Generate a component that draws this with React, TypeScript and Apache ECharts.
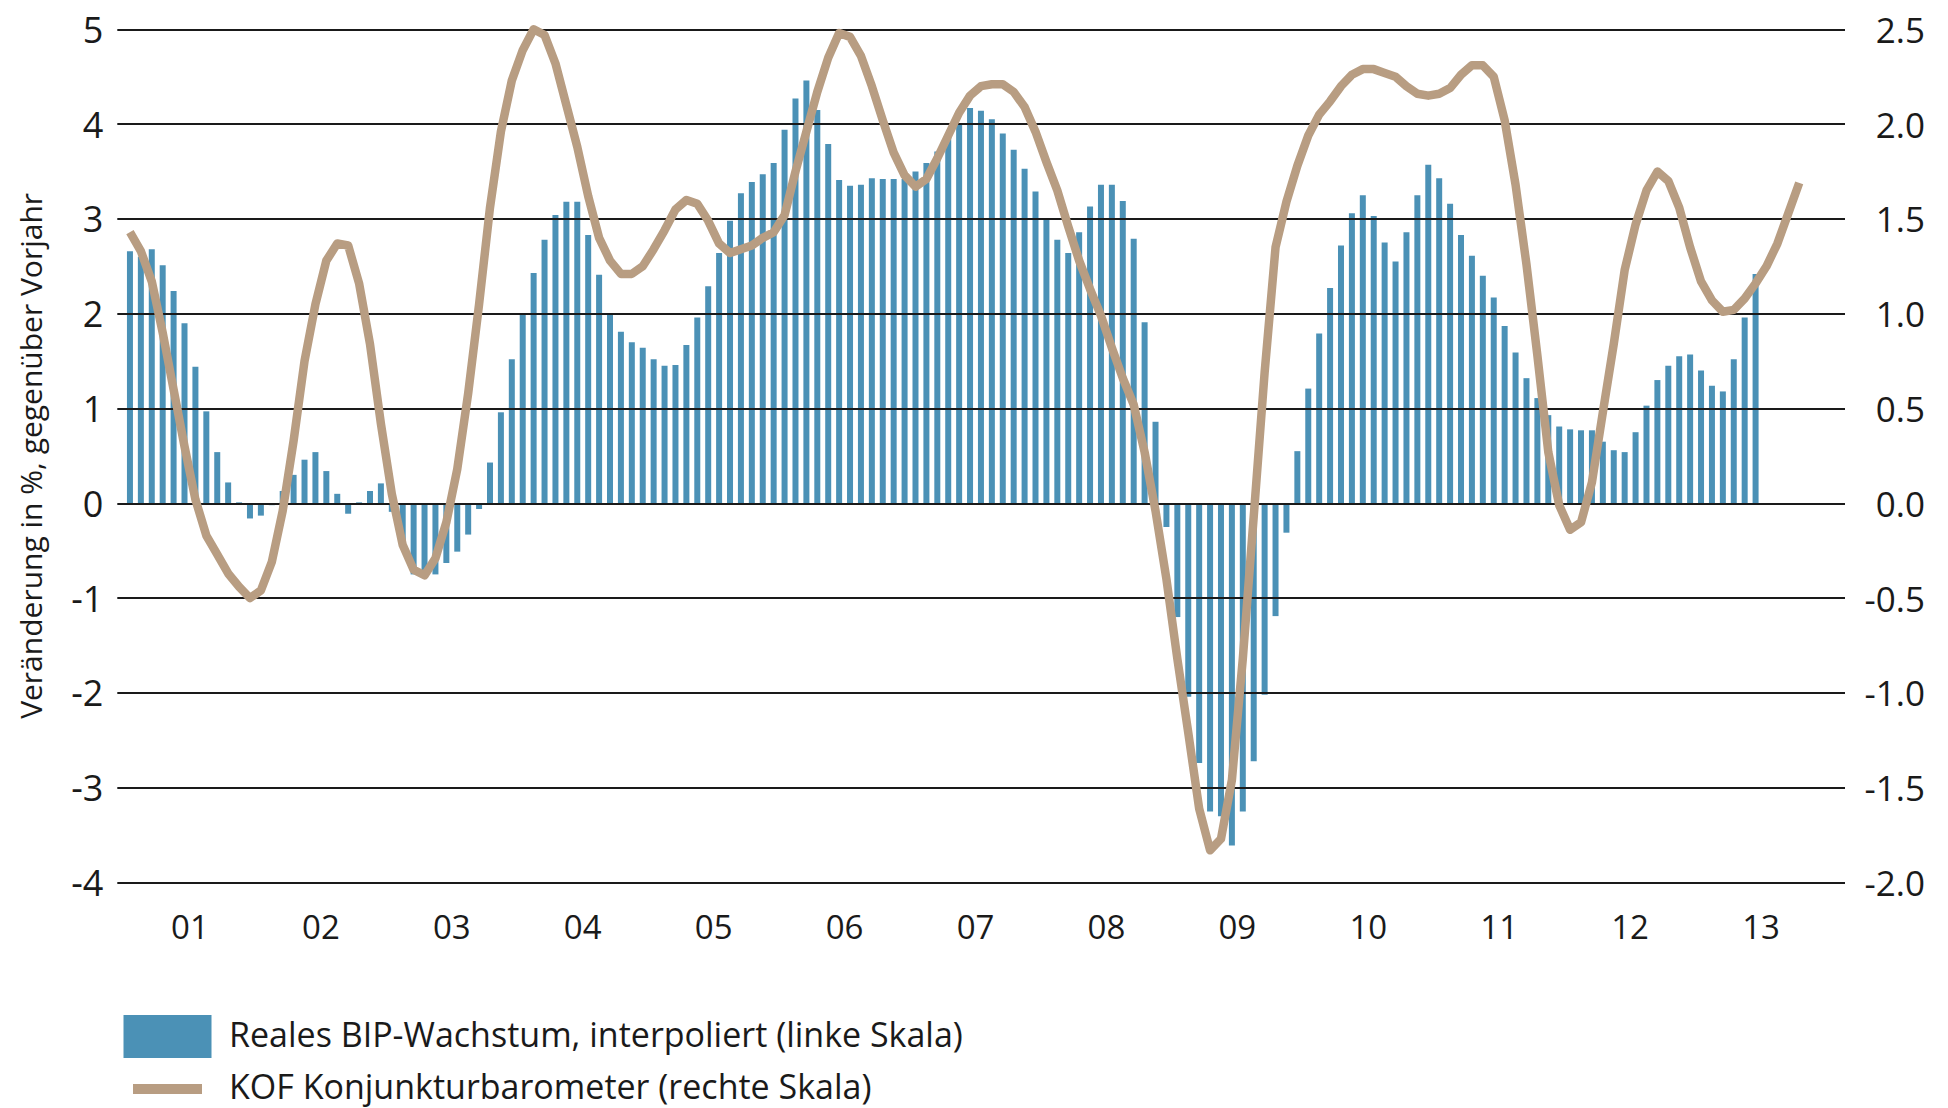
import React, { useEffect, useRef } from "react";
import * as echarts from "echarts";

const yearLabels = ["01", "02", "03", "04", "05", "06", "07", "08", "09", "10", "11", "12", "13"];

// Monthly categories Jan 2001 .. Dec 2013
const monthCategories: string[] = [];
for (let y = 2001; y <= 2013; y++) {
  for (let m = 1; m <= 12; m++) monthCategories.push(`${y}-${m < 10 ? "0" + m : m}`);
}

// Reales BIP-Wachstum, interpoliert (linke Skala), Jan 2001 ..
const bipGrowth = [
  2.66, 2.6, 2.68, 2.51, 2.24, 1.9, 1.44, 0.97, 0.54, 0.22, 0.01, -0.16,
  -0.13, -0.02, 0.13, 0.3, 0.46, 0.54, 0.34, 0.1, -0.11, 0.01, 0.13, 0.21,
  -0.09, -0.43, -0.75, -0.75, -0.75, -0.63, -0.51, -0.33, -0.06, 0.43, 0.96, 1.52,
  2.0, 2.43, 2.78, 3.04, 3.18, 3.18, 2.83, 2.41, 1.99, 1.81, 1.7, 1.64,
  1.52, 1.45, 1.46, 1.67, 1.96, 2.29, 2.64, 2.98, 3.27, 3.39, 3.47, 3.59,
  3.94, 4.27, 4.46, 4.15, 3.79, 3.41, 3.35, 3.36, 3.43, 3.42, 3.42, 3.42,
  3.5, 3.59, 3.71, 3.88, 4.01, 4.17, 4.14, 4.05, 3.9, 3.73, 3.53, 3.29,
  3.01, 2.78, 2.64, 2.86, 3.13, 3.36, 3.36, 3.19, 2.79, 1.91, 0.86, -0.25,
  -1.2, -2.04, -2.74, -3.25, -3.3, -3.61, -3.25, -2.72, -2.02, -1.19, -0.31, 0.55,
  1.21, 1.79, 2.27, 2.72, 3.06, 3.25, 3.03, 2.75, 2.55, 2.86, 3.25, 3.57,
  3.43, 3.16, 2.83, 2.61, 2.4, 2.17, 1.87, 1.59, 1.32, 1.11, 0.93, 0.81,
  0.78, 0.77, 0.77, 0.65, 0.56, 0.54, 0.75, 1.03, 1.3, 1.45, 1.55, 1.57,
  1.4, 1.24, 1.18, 1.52, 1.96, 2.42,
];

// KOF Konjunkturbarometer (rechte Skala), Jan 2001 ..
const kofBarometer = [
  1.43, 1.33, 1.17, 0.9, 0.6, 0.3, 0.02, -0.17, -0.27, -0.37, -0.44, -0.5,
  -0.46, -0.31, -0.04, 0.33, 0.75, 1.05, 1.28, 1.37, 1.36, 1.16, 0.84, 0.42,
  0.05, -0.22, -0.35, -0.38, -0.29, -0.1, 0.18, 0.58, 1.05, 1.56, 1.96, 2.23,
  2.39, 2.5, 2.47, 2.32, 2.1, 1.88, 1.62, 1.4, 1.28, 1.21, 1.21, 1.25,
  1.34, 1.44, 1.55, 1.6, 1.58, 1.49, 1.37, 1.32, 1.34, 1.36, 1.4, 1.43,
  1.52, 1.75, 1.96, 2.17, 2.35, 2.48, 2.46, 2.36, 2.2, 2.02, 1.85, 1.73,
  1.67, 1.71, 1.82, 1.94, 2.06, 2.15, 2.2, 2.21, 2.21, 2.17, 2.09, 1.96,
  1.8, 1.65, 1.46, 1.28, 1.13, 0.99, 0.82, 0.66, 0.52, 0.27, -0.04, -0.4,
  -0.82, -1.21, -1.61, -1.83, -1.77, -1.46, -0.82, -0.07, 0.69, 1.35, 1.59, 1.78,
  1.94, 2.05, 2.12, 2.2, 2.26, 2.29, 2.29, 2.27, 2.25, 2.2, 2.16, 2.15,
  2.16, 2.19, 2.26, 2.31, 2.31, 2.25, 2.02, 1.68, 1.26, 0.78, 0.27, -0.01,
  -0.14, -0.1, 0.11, 0.48, 0.84, 1.23, 1.47, 1.65, 1.75, 1.7, 1.56, 1.35,
  1.17, 1.07, 1.01, 1.02, 1.08, 1.16, 1.25, 1.37, 1.53, 1.69,
];

const seriesNames = [
  "Reales BIP-Wachstum, interpoliert (linke Skala)",
  "KOF Konjunkturbarometer (rechte Skala)",
];
const yAxisTitle = "Veränderung in %, gegenüber Vorjahr";

const BAR_COLOR = "#4b91b6";
const LINE_COLOR = "#b89d82";
const TEXT_COLOR = "#1a1a1a";
const FONT = "'Open Sans', 'Noto Sans', sans-serif";

export default function App() {
  const ref = useRef<HTMLDivElement>(null);

  useEffect(() => {
    document.body.style.margin = "0";
    if (!ref.current) return;
    const chart = echarts.init(ref.current, undefined, { renderer: "svg" });
    const top = 29.3;
    const bottom = 1108 - 882.5;
    chart.setOption({
      animation: false,
      backgroundColor: "#ffffff",
      textStyle: { fontFamily: FONT, color: TEXT_COLOR },
      grid: [
        { left: 124.5, right: 121.5, top, bottom },
        { left: 117.3, right: 103, top, bottom },
      ],
      xAxis: [
        {
          gridIndex: 0,
          type: "category",
          data: monthCategories,
          boundaryGap: true,
          show: false,
        },
        {
          gridIndex: 0,
          type: "category",
          data: yearLabels,
          boundaryGap: true,
          position: "bottom",
          axisLine: { show: false, onZero: false },
          axisTick: { show: false },
          splitLine: { show: false },
          axisLabel: {
            interval: 0,
            fontSize: 33,
            fontFamily: FONT,
            color: TEXT_COLOR,
            margin: 27,
          },
        },
        { gridIndex: 1, type: "value", min: 0, max: 1, show: false },
      ],
      yAxis: [
        {
          gridIndex: 1,
          type: "value",
          position: "left",
          min: -4,
          max: 5,
          interval: 1,
          z: 3,
          axisLine: { show: false },
          axisTick: { show: false },
          splitLine: { show: true, lineStyle: { color: TEXT_COLOR, width: 2 } },
          axisLabel: { fontSize: 36, fontFamily: FONT, color: TEXT_COLOR, margin: 14 },
          name: yAxisTitle,
          nameLocation: "middle",
          nameRotate: 90,
          nameGap: 72,
          nameTextStyle: { fontSize: 30, fontFamily: FONT, color: TEXT_COLOR },
        },
        {
          gridIndex: 1,
          type: "value",
          position: "right",
          min: -2,
          max: 2.5,
          interval: 0.5,
          axisLine: { show: false },
          axisTick: { show: false },
          splitLine: { show: false },
          axisLabel: {
            fontSize: 35,
            fontFamily: FONT,
            color: TEXT_COLOR,
            align: "right",
            margin: 80,
            formatter: (v: number) => v.toFixed(1),
          },
        },
        { gridIndex: 0, type: "value", min: -4, max: 5, interval: 1, show: false },
        { gridIndex: 0, type: "value", min: -2, max: 2.5, interval: 0.5, show: false },
      ],
      series: [
        {
          name: seriesNames[0],
          type: "bar",
          xAxisIndex: 0,
          yAxisIndex: 2,
          data: bipGrowth,
          barWidth: 6,
          z: 2,
          itemStyle: { color: BAR_COLOR },
        },
        {
          name: seriesNames[1],
          type: "line",
          xAxisIndex: 0,
          yAxisIndex: 3,
          data: kofBarometer,
          showSymbol: false,
          z: 5,
          lineStyle: { color: LINE_COLOR, width: 8.5, join: "round", cap: "butt" },
        },
      ],
      graphic: [
        {
          type: "rect",
          shape: { x: 123.5, y: 1015, width: 88, height: 43 },
          style: { fill: BAR_COLOR },
        },
        {
          type: "text",
          x: 229,
          y: 1034,
          style: {
            text: seriesNames[0],
            font: `34px ${FONT}`,
            fill: TEXT_COLOR,
            verticalAlign: "middle",
            align: "left",
          },
        },
        {
          type: "rect",
          shape: { x: 133, y: 1084, width: 69, height: 10 },
          style: { fill: LINE_COLOR },
        },
        {
          type: "text",
          x: 229,
          y: 1086,
          style: {
            text: seriesNames[1],
            font: `34px ${FONT}`,
            fill: TEXT_COLOR,
            verticalAlign: "middle",
            align: "left",
          },
        },
      ],
    });
    return () => chart.dispose();
  }, []);

  return <div ref={ref} style={{ width: 1948, height: 1108 }} />;
}
